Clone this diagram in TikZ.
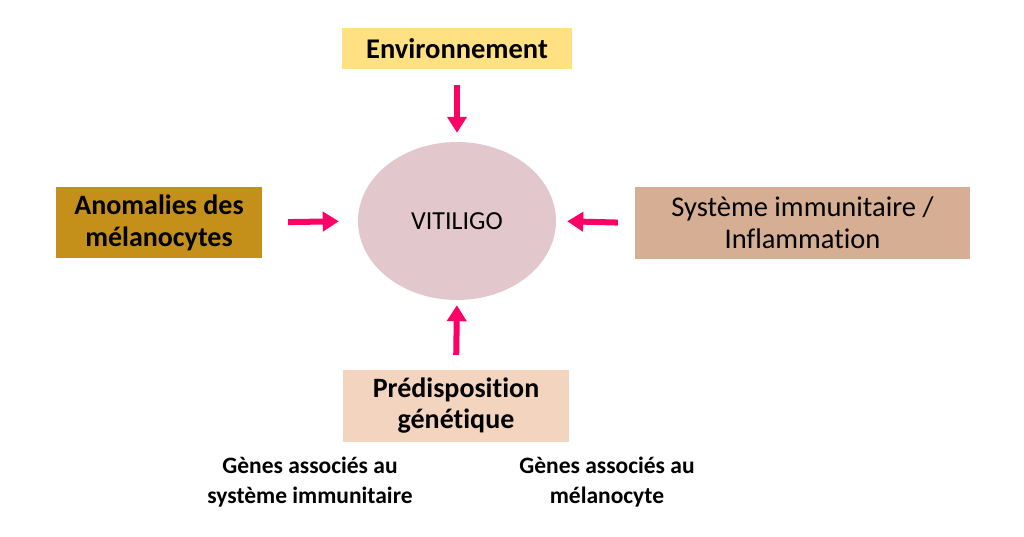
\documentclass[tikz,border=0pt]{standalone}
\usepackage{fontspec}
\setmainfont{Carlito}[Ligatures=NoCommon]
\usepackage{xcolor}
\usetikzlibrary{arrows.meta, shapes.geometric}
\definecolor{envcol}{HTML}{FFE083}
\definecolor{anocol}{HTML}{C4901A}
\definecolor{immcol}{HTML}{D5AE93}
\definecolor{gencol}{HTML}{F3D5BF}
\definecolor{vitcol}{HTML}{E2C8CC}
\definecolor{arrcol}{HTML}{FF0066}

\begin{document}
\begin{tikzpicture}[x=1pt, y=-1pt,
    facteur/.style={rectangle, inner sep=0pt, align=center, font=\fontsize{28.5}{32}\selectfont},
    gene/.style={align=center, font=\bfseries\fontsize{23.5}{30}\selectfont},
    fleche/.style={draw=arrcol, line width=6pt, -{Triangle[width=19pt, length=16pt]}}]
\useasboundingbox (0, 0) rectangle (1024, 537);
% le centre
\node[ellipse, fill=vitcol, minimum width=198pt, minimum height=158pt, font=\fontsize{26}{30}\selectfont] (vit) at (457, 221) {VITILIGO};
% les facteurs
\node[facteur, fill=envcol, minimum width=230pt, minimum height=41pt, font=\bfseries\fontsize{28.5}{32}\selectfont] (env) at (457, 48.5) {Environnement};
\node[facteur, fill=anocol, minimum width=206pt, minimum height=71pt, font=\bfseries\fontsize{28}{32}\selectfont] (ano) at (159, 222.5) {Anomalies des\\m\'elanocytes};
\node[facteur, fill=immcol, minimum width=335pt, minimum height=72pt] (imm) at (802.5, 223) {Syst\`eme immunitaire /\\Inflammation};
\node[facteur, fill=gencol, minimum width=226pt, minimum height=72pt, font=\bfseries\fontsize{28}{31}\selectfont] (gen) at (456, 406) {Pr\'edisposition\\g\'en\'etique};
% les genes
\node[gene] (genimm) at (310, 482) {G\`enes associ\'es au\\syst\`eme immunitaire};
\node[gene] (genmel) at (607, 482) {G\`enes associ\'es au\\m\'elanocyte};
% les fleches
\draw[fleche, shorten <=16pt, shorten >=9pt] (env.south) -- (vit.north);
\draw[fleche, shorten <=26pt, shorten >=19pt] (ano.east) -- (vit.west);
\draw[fleche, shorten <=17pt, shorten >=11pt] (imm.west) -- (vit.east);
\draw[fleche, shorten <=15pt, shorten >=5pt] (gen.north) -- (vit.south);
\end{tikzpicture}
\end{document}
